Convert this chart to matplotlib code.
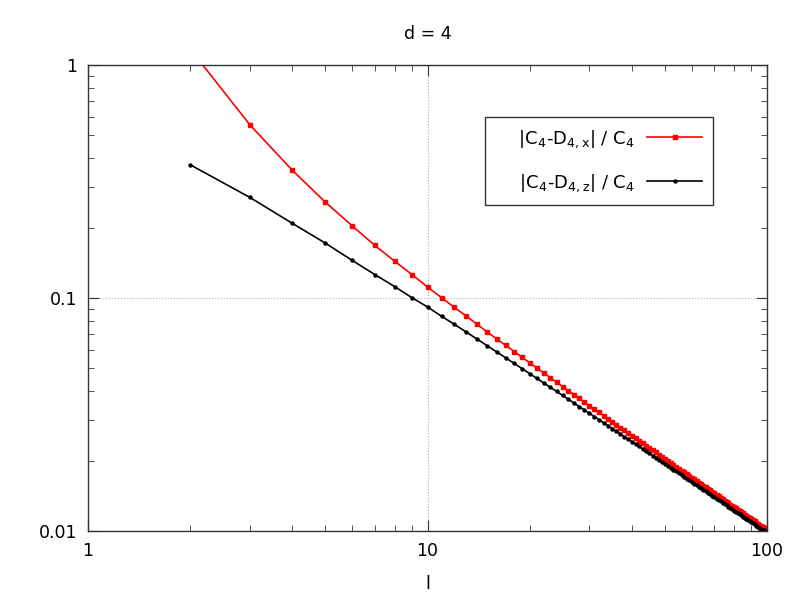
import matplotlib
matplotlib.use('Agg')
import matplotlib.pyplot as plt
from matplotlib.ticker import LogLocator, NullFormatter, FixedLocator, FixedFormatter

plt.rcParams['mathtext.default'] = 'regular'
plt.rcParams['font.family'] = 'DejaVu Sans'

# l = 2 .. 100
l = list(range(2, 101))

# |C4-D4,x| / C4  (red, squares)
ratio_x = [
    1.17, 0.553, 0.353, 0.258, 0.204, 0.168, 0.144, 0.126, 0.1115,
    0.1003, 0.0911, 0.0837, 0.0771, 0.0714, 0.0667, 0.0626, 0.0589, 0.0556, 0.0527,
    0.05006, 0.04767, 0.04550, 0.04352, 0.04170, 0.04003, 0.03849, 0.03706, 0.03574, 0.03450,
    0.03335, 0.03227, 0.03126, 0.03032, 0.02942, 0.02858, 0.02779, 0.02704, 0.02633, 0.02565,
    0.02501, 0.02440, 0.02382, 0.02326, 0.02273, 0.02223, 0.02174, 0.02128, 0.02084, 0.02041,
    0.02000, 0.01961, 0.01923, 0.01887, 0.01852, 0.01818, 0.01786, 0.01755, 0.01724, 0.01695,
    0.01667, 0.01640, 0.01613, 0.01588, 0.01563, 0.01539, 0.01515, 0.01493, 0.01471, 0.01449,
    0.01429, 0.01409, 0.01389, 0.01370, 0.01351, 0.01333, 0.01316, 0.01299, 0.01282, 0.01266,
    0.01250, 0.01235, 0.01220, 0.01205, 0.01191, 0.01177, 0.01163, 0.01150, 0.01136, 0.01124,
    0.01111, 0.01099, 0.01087, 0.01075, 0.01064, 0.01053, 0.01042, 0.01031, 0.01020, 0.01012,
]

# |C4-D4,z| / C4  (black, dots)
ratio_z = [
    0.373, 0.270, 0.209, 0.172, 0.145, 0.126, 0.112, 0.1003, 0.0915,
    0.0835, 0.0771, 0.07145, 0.06660, 0.06237, 0.05864, 0.05534, 0.05239, 0.04974, 0.04735,
    0.04518, 0.04320, 0.04138, 0.03971, 0.03818, 0.03675, 0.03543, 0.03421, 0.03306, 0.03199,
    0.03099, 0.03005, 0.02916, 0.02832, 0.02753, 0.02679, 0.02608, 0.02541, 0.02478, 0.02417,
    0.02360, 0.02305, 0.02252, 0.02202, 0.02154, 0.02108, 0.02064, 0.02022, 0.01982, 0.01943,
    0.01906, 0.01870, 0.01835, 0.01802, 0.01770, 0.01739, 0.01709, 0.01680, 0.01652, 0.01625,
    0.01599, 0.01573, 0.01549, 0.01525, 0.01502, 0.01479, 0.01458, 0.01437, 0.01416, 0.01396,
    0.01377, 0.01358, 0.01340, 0.01322, 0.01305, 0.01288, 0.01271, 0.01255, 0.01239, 0.01224,
    0.01209, 0.01195, 0.01180, 0.01167, 0.01153, 0.01140, 0.01127, 0.01114, 0.01102, 0.01090,
    0.01078, 0.01067, 0.01055, 0.01044, 0.01033, 0.01023, 0.01014, 0.01007, 0.01002, 0.00998,
]

# leading spaces give the gnuplot-like empty room on the left of the key
label_x = r'    |C$_4$-D$_{4,x}$| / C$_4$'
label_z = r'    |C$_4$-D$_{4,z}$| / C$_4$'

fig = plt.figure(figsize=(8, 6), dpi=100)
ax = fig.add_axes([0.11, 0.115, 0.84875, 0.7767])

ax.plot(l, ratio_x, color='#ff0000', lw=1.2, marker='s', ms=3.3, label=label_x)
ax.plot(l, ratio_z, color='black', lw=1.2, marker='o', ms=2.2, label=label_z)

ax.set_xscale('log')
ax.set_yscale('log')
ax.set_xlim(1, 100)
ax.set_ylim(0.01, 1)

ax.xaxis.set_major_locator(FixedLocator([1, 10, 100]))
ax.xaxis.set_major_formatter(FixedFormatter(['1', '10', '100']))
ax.yaxis.set_major_locator(FixedLocator([0.01, 0.1, 1]))
ax.yaxis.set_major_formatter(FixedFormatter(['0.01', '0.1', '1']))
ax.xaxis.set_minor_locator(LogLocator(base=10, subs=range(2, 10)))
ax.yaxis.set_minor_locator(LogLocator(base=10, subs=range(2, 10)))
ax.xaxis.set_minor_formatter(NullFormatter())
ax.yaxis.set_minor_formatter(NullFormatter())

ax.tick_params(which='both', direction='in', top=True, right=True,
               labelsize=12.5, colors='#333333', labelcolor='black')
ax.tick_params(which='major', length=8, pad=8)
ax.tick_params(which='minor', length=4)

ax.grid(True, which='major', color='#b0b0b0', linestyle=':', lw=0.8)
for s in ax.spines.values():
    s.set_color('#333333')
    s.set_linewidth(1)

ax.set_title('d = 4', fontsize=12.5, pad=19)
ax.set_xlabel('l', fontsize=12.5, labelpad=11)

leg = ax.legend(loc='upper right', bbox_to_anchor=(0.9205, 0.888), borderaxespad=0,
                markerfirst=False, fancybox=False, fontsize=13, handlelength=3.05,
                labelspacing=1.25, borderpad=0.6, handletextpad=0.7, markerscale=1)
leg.get_frame().set_edgecolor('black')
leg.get_frame().set_linewidth(1)
for t in leg.get_texts():
    t.set_ha('right')

fig.savefig('out.png', dpi=100)
